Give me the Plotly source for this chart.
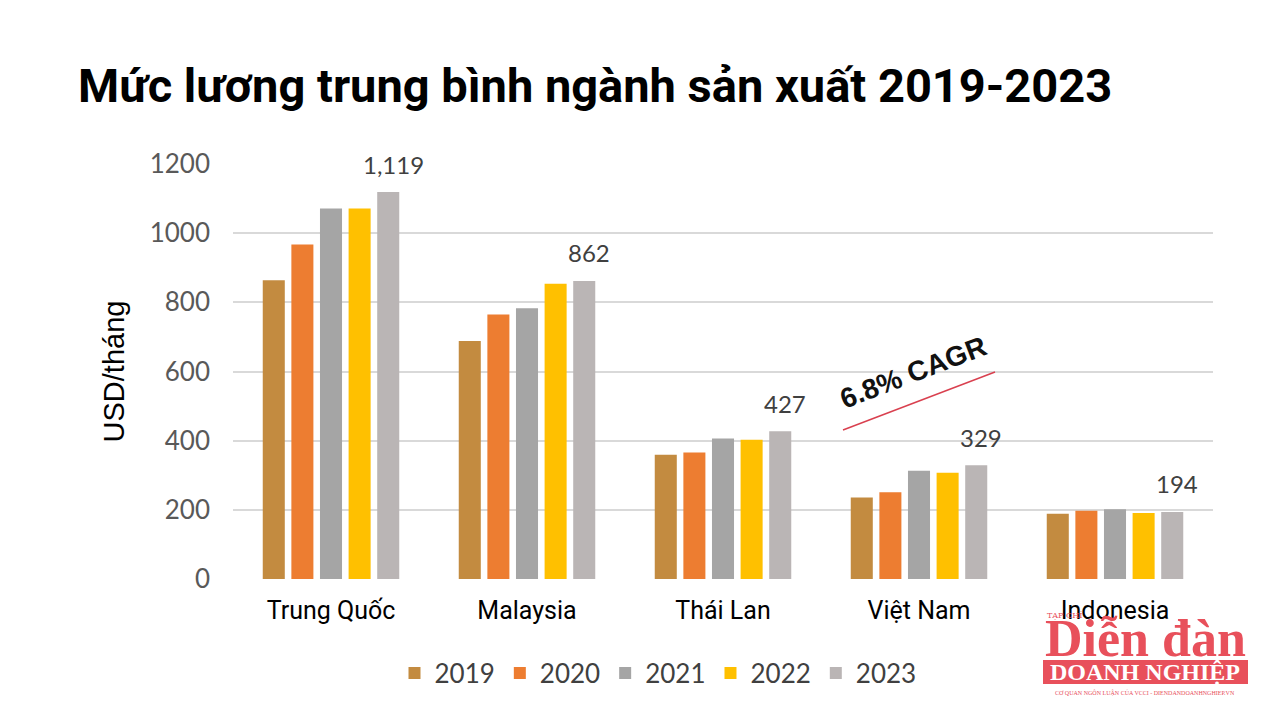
import plotly.graph_objects as go

countries = ["Trung Quốc", "Malaysia", "Thái Lan", "Việt Nam", "Indonesia"]
years = ["2019", "2020", "2021", "2022", "2023"]
v2019 = [864, 688, 359, 236, 189]
v2020 = [967, 765, 366, 251, 197]
v2021 = [1071, 783, 406, 313, 202]
v2022 = [1071, 854, 403, 307, 191]
v2023 = [1119, 862, 427, 329, 194]
colors = ["#C38B40", "#ED7D31", "#A5A5A5", "#FFC000", "#BAB5B5"]

series = [v2019, v2020, v2021, v2022, v2023]

# page body has an 8px offset; plot area on screen: x 233-1213, y 164-579
OFF = 8
PL, PR, PT, PB = 233, 1213, 164, 579
def px(x):
    return (x - PL) / (PR - PL)
def py(y):
    return (PB - y) / (PB - PT)

fig = go.Figure()
for yr, vals, col in zip(years, series, colors):
    fig.add_trace(go.Bar(x=countries, y=vals, name=yr, marker=dict(color=col, line=dict(width=0))))

# value labels above 2023 bars
for c, v in zip(countries, v2023):
    fig.add_annotation(x=c, y=v, xref="x", yref="y", text=f"{v:,}", showarrow=False,
                       xshift=62, yshift=28, font=dict(family="Lato", size=24, color="#404040"))

# CAGR annotation
fig.add_shape(type="line", xref="paper", yref="paper", x0=px(843), y0=py(430), x1=px(995), y1=py(372),
              line=dict(color="#D9404F", width=1.5))
fig.add_annotation(xref="paper", yref="paper", x=px(913), y=py(372), xanchor="center", yanchor="middle",
                   text="<b>6.8% CAGR</b>", showarrow=False,
                   textangle=-21, font=dict(family="Liberation Sans", size=28, color="#111111"))

# Title
fig.add_annotation(xref="paper", yref="paper", x=px(76), y=py(86), xanchor="left",
                   yanchor="middle", text="<b>Mức lương trung bình ngành sản xuất 2019-2023</b>",
                   showarrow=False, font=dict(family="Roboto", size=47, color="#000000"))

# Watermark logo
fig.add_annotation(xref="paper", yref="paper", x=px(1045), y=py(615), xanchor="left", yanchor="middle",
                   text="TẠP CHÍ", showarrow=False, font=dict(family="DejaVu Serif", size=8, color="#E8505B"))
fig.add_annotation(xref="paper", yref="paper", x=px(1145), y=py(638), xanchor="center", yanchor="middle",
                   text="<b>Diễn đàn</b>", showarrow=False,
                   font=dict(family="Liberation Serif", size=52, color="#E8505B"))
fig.add_shape(type="rect", xref="paper", yref="paper", x0=px(1043), x1=px(1248),
              y0=py(684), y1=py(660), fillcolor="#E8505B", line=dict(width=0))
fig.add_annotation(xref="paper", yref="paper", x=px(1145), y=py(672), xanchor="center", yanchor="middle",
                   text="<b>DOANH NGHIỆP</b>", showarrow=False,
                   font=dict(family="Liberation Serif", size=24, color="#FFFFFF"))
fig.add_annotation(xref="paper", yref="paper", x=px(1145), y=py(692), xanchor="center", yanchor="middle",
                   text="CƠ QUAN NGÔN LUẬN CỦA VCCI - DIENDANDOANHNGHIEP.VN", showarrow=False,
                   font=dict(family="Liberation Serif", size=6, color="#E8505B"))

fig.update_layout(
    width=1280, height=720,
    paper_bgcolor="white", plot_bgcolor="white",
    margin=dict(l=PL - OFF, r=1280 - (PR - OFF), t=PT - OFF, b=720 - (PB - OFF), autoexpand=False),
    barmode="group", bargap=0.27, bargroupgap=0.23,
    showlegend=True,
    legend=dict(orientation="h", xref="container", yref="container", x=(658 - OFF) / 1280, y=1 - (673 - OFF) / 720,
                xanchor="center", yanchor="middle", font=dict(family="Lato", size=26, color="#404040"),
                itemclick=False, traceorder="normal"),
    xaxis=dict(showgrid=False, showline=False, ticks="", automargin=False,
               tickfont=dict(family="Roboto", size=25, color="#000000"), ticklabelstandoff=14),
    yaxis=dict(range=[0, 1200], dtick=200, showgrid=True, gridcolor="#D9D9D9", gridwidth=1.5,
               zeroline=False, showline=False, ticks="", automargin=False,
               tickfont=dict(family="Lato", size=26, color="#595959"), ticklabelstandoff=22,
               title=dict(text="USD/tháng", font=dict(family="Liberation Sans", size=29, color="#000000"), standoff=16)),
)

fig.write_html("out.html")
